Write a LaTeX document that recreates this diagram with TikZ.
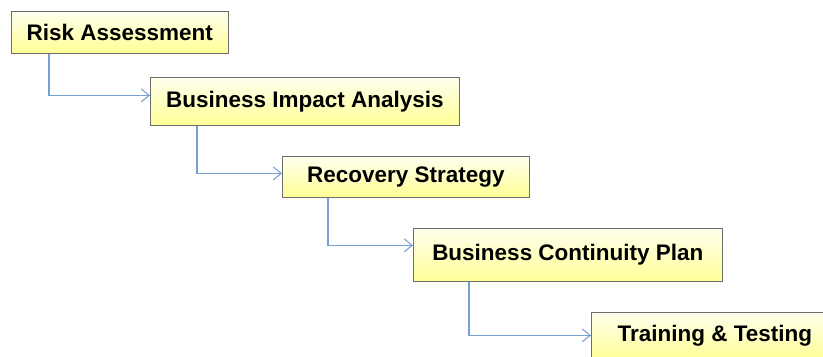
\documentclass[tikz,border=0pt]{standalone}
\usepackage{xcolor}
\usepackage{fontspec}
\setmainfont{Liberation Sans}
\usepackage{tikz}
\usetikzlibrary{arrows.meta}
\definecolor{boxline}{RGB}{110,110,110}
\definecolor{boxtop}{RGB}{255,255,238}
\definecolor{boxbot}{RGB}{255,255,150}
\definecolor{flowline}{RGB}{120,160,210}

\begin{document}
\begin{tikzpicture}
  \useasboundingbox (0,0) rectangle (16.46,7.12);
  \begin{scope}[every node/.style={draw=boxline,below right,inner sep=0pt,top color=boxtop,bottom color=boxbot,
      font=\bfseries\fontsize{12.8}{15}\selectfont,align=center}]
  \node[minimum width=4.34cm,minimum height=0.84cm] (rsk) at (0.22,6.90) {Risk Assessment};
  \node[minimum width=6.18cm,minimum height=0.96cm] (bia) at (3.00,5.58) {Business Impact Analysis};
  \node[minimum width=4.94cm,minimum height=0.82cm] (rec) at (5.64,4.00) {Recovery Strategy};
  \node[minimum width=6.18cm,minimum height=1.06cm] (bcp) at (8.26,2.56) {Business Continuity Plan};
  \node[minimum width=4.94cm,minimum height=0.94cm] (trn) at (11.82,0.88) {Training \& Testing};
  \end{scope}
  \begin{scope}[every path/.style={draw=flowline,-{Straight Barb[length=1.6mm,width=2.6mm]},semithick}]
  \draw ([xshift=0.76cm]rsk.south west) |- ([yshift=0.12cm]bia.west);
  \draw ([xshift=0.94cm]bia.south west) |- ([yshift=0.07cm]rec.west);
  \draw ([xshift=0.92cm]rec.south west) |- ([yshift=0.19cm]bcp.west);
  \draw ([xshift=1.12cm]bcp.south west) |- ([yshift=0.01cm]trn.west);
  \end{scope}
\end{tikzpicture}
\end{document}
